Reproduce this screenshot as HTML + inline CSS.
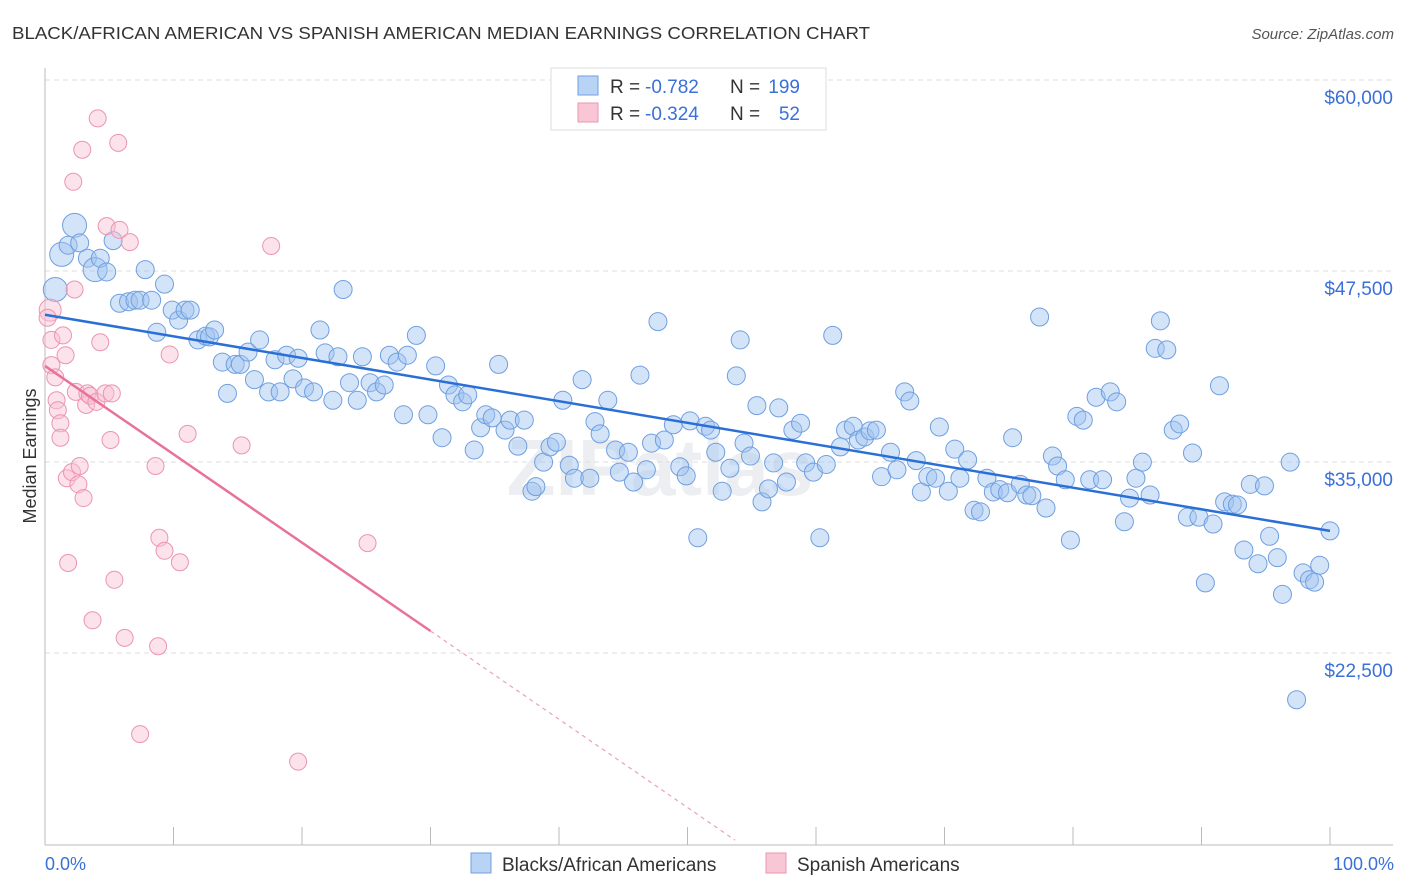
<!DOCTYPE html>
<html><head><meta charset="utf-8"><style>
body{margin:0;background:#fff;font-family:"Liberation Sans",sans-serif;}
#wrap{position:relative;width:1406px;height:892px;overflow:hidden;}
</style></head><body>
<div id="wrap">
<svg id="svg" width="1406" height="892" style="position:absolute;left:0;top:0">
<text x="12" y="39" font-size="17.5" fill="#333" textLength="858" lengthAdjust="spacingAndGlyphs">BLACK/AFRICAN AMERICAN VS SPANISH AMERICAN MEDIAN EARNINGS CORRELATION CHART</text>
<text x="1394" y="39" font-size="15" fill="#555" font-style="italic" text-anchor="end">Source: ZipAtlas.com</text>
<text x="36" y="456" font-size="18" fill="#333" text-anchor="middle" transform="rotate(-90 36 456)">Median Earnings</text>
<text x="660" y="495" font-size="80" fill="#eceef2" font-weight="bold" text-anchor="middle">ZIPatlas</text>
<g id="grid"></g><g id="axes"></g><g id="pts"></g><g id="lines"></g>
<g>
<rect x="551" y="68" width="275" height="62" fill="#fff" stroke="#ddd"/>
<rect x="578" y="76" width="20" height="19" fill="#b9d3f5" stroke="#6f9fe0"/>
<rect x="578" y="103" width="20" height="19" fill="#f9c6d6" stroke="#eb95b0"/>
<text x="610" y="93" font-size="19" fill="#333">R =</text>
<text x="645" y="93" font-size="19" fill="#3a70d8">-0.782</text>
<text x="730" y="93" font-size="19" fill="#333">N =</text>
<text x="800" y="93" font-size="19" fill="#3a70d8" text-anchor="end">199</text>
<text x="610" y="120" font-size="19" fill="#333">R =</text>
<text x="645" y="120" font-size="19" fill="#3a70d8">-0.324</text>
<text x="730" y="120" font-size="19" fill="#333">N =</text>
<text x="800" y="120" font-size="19" fill="#3a70d8" text-anchor="end">52</text>
</g>
<g>
<rect x="471" y="853" width="20" height="20" fill="#b9d3f5" stroke="#6f9fe0"/>
<text x="502" y="871" font-size="19" fill="#333">Blacks/African Americans</text>
<rect x="766" y="853" width="20" height="20" fill="#f9c6d6" stroke="#eb95b0"/>
<text x="797" y="871" font-size="19" fill="#333">Spanish Americans</text>
</g>
<text x="45" y="870" font-size="18" fill="#3a70d8">0.0%</text>
<text x="1394" y="870" font-size="18" fill="#3a70d8" text-anchor="end">100.0%</text>
</svg>
</div>
<script>
const yTicks=[60000,47500,35000,22500];
const yTickLabels=["$60,000","$47,500","$35,000","$22,500"];
const blueX=[0.8,1.3,1.8,2.3,2.7,3.3,3.9,4.3,4.8,5.3,5.8,6.5,7.0,7.4,7.8,8.3,8.7,9.3,9.9,10.4,10.9,11.3,11.9,12.5,12.8,13.2,13.8,14.2,14.8,15.2,15.8,16.3,16.7,17.4,17.9,18.3,18.8,19.3,19.7,20.2,20.9,21.4,21.8,22.4,22.8,23.2,23.7,24.3,24.7,25.3,25.8,26.4,26.8,27.4,27.9,28.2,28.9,29.8,30.4,30.9,31.4,31.9,32.5,32.9,33.4,33.9,34.3,34.8,35.3,35.8,36.2,36.8,37.3,37.9,38.2,38.8,39.3,39.8,40.3,40.8,41.2,41.8,42.4,42.8,43.2,43.8,44.4,44.7,45.4,45.8,46.3,46.8,47.2,47.7,48.2,48.9,49.4,49.9,50.2,50.8,51.4,51.8,52.2,52.7,53.3,53.8,54.1,54.4,54.9,55.4,55.8,56.3,56.7,57.1,57.7,58.2,58.8,59.2,59.8,60.3,60.8,61.3,61.9,62.3,62.9,63.3,63.8,64.2,64.7,65.1,65.8,66.3,66.9,67.3,67.8,68.2,68.7,69.3,69.6,70.3,70.8,71.2,71.8,72.3,72.8,73.3,73.8,74.3,74.9,75.3,75.9,76.4,76.8,77.4,77.9,78.4,78.8,79.4,79.8,80.3,80.8,81.3,81.8,82.3,82.9,83.4,84.0,84.4,84.9,85.4,86.0,86.4,86.8,87.3,87.8,88.3,88.9,89.3,89.8,90.3,90.9,91.4,91.8,92.4,92.8,93.3,93.8,94.4,94.9,95.3,95.9,96.3,96.9,97.4,97.9,98.4,98.8,99.2,100];
const blueY=[47400,49700,50300,51600,50450,49450,48700,49450,48550,50600,46500,46600,46700,46700,48700,46700,44600,47750,46050,45400,46050,46050,44100,44350,44300,44750,42650,40600,42500,42500,43300,41500,44100,40700,42800,40700,43100,41550,42900,40950,40700,44750,43250,40150,43000,47400,41300,40150,43000,41300,40700,41150,43100,42650,39200,43100,44400,39200,42400,37700,41150,40500,40050,40500,36900,38350,39200,39000,42500,38200,38850,37150,38850,34200,34500,36100,37100,37400,40150,35900,35050,41500,35050,38750,37950,40150,36900,35450,36750,34800,41800,35600,37350,45300,37550,38550,35800,35200,38800,31150,38450,38200,36750,34200,35700,41750,44100,37350,36500,39800,33500,34350,36050,39650,34800,38200,38650,36050,35450,31150,35950,44400,37100,38200,38450,37550,37750,38150,38200,35150,36750,35600,40700,40100,36200,34150,35150,35050,38400,34200,36950,35050,36250,32950,32850,35050,34150,34300,34100,37700,34650,33950,33900,45600,33100,36500,35850,34950,31000,39100,38850,34950,40350,34950,40700,40050,32200,33750,35050,36100,33950,43550,45350,43450,38200,38600,32500,36700,32500,28200,32050,41100,33500,33350,33300,30350,34650,29450,34550,31250,29850,27450,36100,20550,28850,28400,28250,29350,31600];
const bigBlue=[0,1,3,6];
const pinkX=[0.4,0.2,0.5,0.5,0.8,0.9,1.0,1.2,1.2,1.4,1.6,1.7,1.8,2.1,2.3,2.4,2.6,2.7,2.9,2.2,3.0,3.2,3.3,3.5,3.7,4.0,4.1,4.3,4.7,4.8,5.1,5.2,5.4,5.7,5.8,6.2,6.6,7.4,8.6,8.8,8.9,9.3,9.7,10.5,11.1,15.3,17.6,25.1,19.7];
const pinkY=[46050,45550,44100,42450,41650,40150,39500,38650,37700,44400,43100,35050,29500,35450,47400,40700,34650,35850,56550,54450,33750,39850,40600,40450,25750,40050,58600,43950,40600,51550,37550,40600,28400,57000,51300,24600,50500,18300,35850,24050,31150,30300,43150,29550,37950,37200,50250,30800,16500];
const blueTrend=[[0,45750],[100,31600]];
const pinkTrend=[[0,42400],[30,25050]];
const pinkTrendExt=[[30,25050],[53.7,11360]];

const NS="http://www.w3.org/2000/svg";
const X=p=>45+p*12.85;
const Y=v=>97+(60000-v)/65.45;
function mk(tag,attrs,parent){const e=document.createElementNS(NS,tag);for(const k in attrs)e.setAttribute(k,attrs[k]);document.getElementById(parent).appendChild(e);return e;}
yTicks.forEach((t,i)=>{
  const g=mk('line',{x1:45,x2:1393,y1:Y(t)-17,y2:Y(t)-17,stroke:'#ddd','stroke-dasharray':'5,4'},'grid');
  
  
  const l=mk('text',{x:1393,y:Y(t)+7,'font-size':19,fill:'#3a70d8','text-anchor':'end'},'grid');
  l.textContent=yTickLabels[i];
  
  
});
const ax=mk('line',{x1:45,x2:45,y1:68,y2:845,stroke:'#bbb'},'axes');


const bx=mk('line',{x1:45,x2:1393,y1:845,y2:845,stroke:'#bbb'},'axes');


for(let i=0;i<=10;i++){const t=mk('line',{x1:X(i*10),x2:X(i*10),y1:827,y2:845,stroke:'#bbb'},'axes');
  
  }
blueX.forEach((x,i)=>{
  const c=mk('circle',{cx:X(x),cy:Y(blueY[i]),r:bigBlue.includes(i)?12:9,fill:'rgba(160,196,240,0.45)',stroke:'#6f9fe0','stroke-width':1},'pts');
  
  
});
pinkX.forEach((x,i)=>{
  const c=mk('circle',{cx:X(x),cy:Y(pinkY[i]),r:i==0?11:8.5,fill:'rgba(248,190,210,0.45)',stroke:'#eb95b0','stroke-width':1},'pts');
  
  
});
const bl=mk('line',{x1:X(blueTrend[0][0]),y1:Y(blueTrend[0][1]),x2:X(blueTrend[1][0]),y2:Y(blueTrend[1][1]),stroke:'#2a6fd6','stroke-width':2.5},'lines');


const pl=mk('line',{x1:X(pinkTrend[0][0]),y1:Y(pinkTrend[0][1]),x2:X(pinkTrend[1][0]),y2:Y(pinkTrend[1][1]),stroke:'#e8729a','stroke-width':2.5},'lines');


const pd=mk('line',{x1:X(pinkTrendExt[0][0]),y1:Y(pinkTrendExt[0][1]),x2:X(pinkTrendExt[1][0]),y2:Y(pinkTrendExt[1][1]),stroke:'#eba0b8','stroke-width':1.2,'stroke-dasharray':'4,4'},'lines');


</script>
</body></html>
